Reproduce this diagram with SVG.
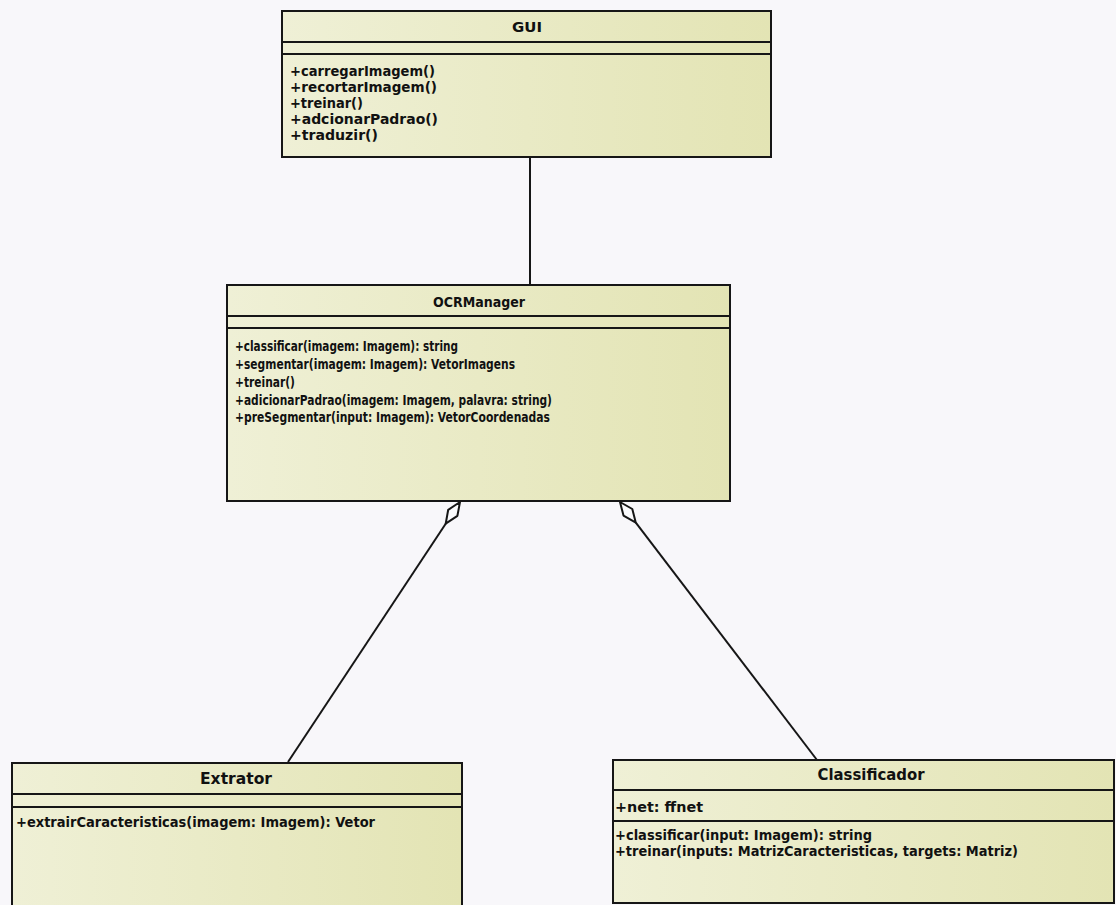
<svg xmlns="http://www.w3.org/2000/svg" width="1116" height="905" viewBox="0 0 1116 905">
  <defs>
    <linearGradient id="fillG" x1="0" y1="0" x2="1" y2="0">
      <stop offset="0" stop-color="#eff0d6"/>
      <stop offset="1" stop-color="#e3e4b4"/>
    </linearGradient>
    <style>
      .box { fill: url(#fillG); stroke: #161616; stroke-width: 2; }
      .sep { stroke: #161616; stroke-width: 2; }
      .title { font-family: "DejaVu Sans", "Liberation Sans", sans-serif; font-weight: bold; fill: #111; text-anchor: middle; }
      .m { font-family: "DejaVu Sans", "Liberation Sans", sans-serif; fill: #111; font-weight: 600; }
      .conn { stroke: #161616; stroke-width: 2; fill: none; }
      .dia { fill: #fbfbfd; stroke: #161616; stroke-width: 2; stroke-linejoin: round; }
    </style>
  </defs>
  <rect x="0" y="0" width="1116" height="905" fill="#f8f7fa"/>

  <g id="connectors">
    <line class="conn" x1="530" y1="157" x2="530" y2="285"/>
    <line class="conn" x1="445.7" y1="523.7" x2="288" y2="762"/>
    <polygon class="dia" points="460,502 457.4,515.8 445.7,523.7 448.2,509.8"/>
    <line class="conn" x1="635.8" y1="522.7" x2="817" y2="760"/>
    <polygon class="dia" points="620,502 632.3,509 635.8,522.7 623.5,515.6"/>
  </g>

  <g id="GUI">
    <rect class="box" x="282" y="11" width="489" height="146"/>
    <line class="sep" x1="282" y1="42" x2="771" y2="42"/>
    <line class="sep" x1="282" y1="54" x2="771" y2="54"/>
    <text class="title" x="527" y="32" font-size="13.5" textLength="30" lengthAdjust="spacingAndGlyphs">GUI</text>
    <text class="m" x="290" y="75.5" font-size="14" textLength="145" lengthAdjust="spacingAndGlyphs">+carregarImagem()</text>
    <text class="m" x="290" y="91.5" font-size="14" textLength="147" lengthAdjust="spacingAndGlyphs">+recortarImagem()</text>
    <text class="m" x="290" y="107.5" font-size="14" textLength="73" lengthAdjust="spacingAndGlyphs">+treinar()</text>
    <text class="m" x="290" y="123.5" font-size="14" textLength="148" lengthAdjust="spacingAndGlyphs">+adcionarPadrao()</text>
    <text class="m" x="290" y="139.5" font-size="14" textLength="88" lengthAdjust="spacingAndGlyphs">+traduzir()</text>
  </g>

  <g id="OCRManager">
    <rect class="box" x="227" y="285" width="503" height="216"/>
    <line class="sep" x1="227" y1="316" x2="730" y2="316"/>
    <line class="sep" x1="227" y1="328" x2="730" y2="328"/>
    <text class="title" x="479" y="306.5" font-size="14" textLength="92" lengthAdjust="spacingAndGlyphs">OCRManager</text>
    <text class="m" x="235" y="350.5" font-size="13.5" textLength="223" lengthAdjust="spacingAndGlyphs">+classificar(imagem: Imagem): string</text>
    <text class="m" x="235" y="368.5" font-size="13.5" textLength="280" lengthAdjust="spacingAndGlyphs">+segmentar(imagem: Imagem): VetorImagens</text>
    <text class="m" x="235" y="386.5" font-size="13.5" textLength="60" lengthAdjust="spacingAndGlyphs">+treinar()</text>
    <text class="m" x="235" y="404.5" font-size="13.5" textLength="317" lengthAdjust="spacingAndGlyphs">+adicionarPadrao(imagem: Imagem, palavra: string)</text>
    <text class="m" x="235" y="421.5" font-size="13.5" textLength="315" lengthAdjust="spacingAndGlyphs">+preSegmentar(input: Imagem): VetorCoordenadas</text>
  </g>

  <g id="Extrator">
    <rect class="box" x="12" y="763" width="450" height="160"/>
    <line class="sep" x1="12" y1="794" x2="462" y2="794"/>
    <line class="sep" x1="12" y1="807" x2="462" y2="807"/>
    <text class="title" x="236" y="784" font-size="15" textLength="72" lengthAdjust="spacingAndGlyphs">Extrator</text>
    <text class="m" x="16" y="827" font-size="14.5" textLength="359" lengthAdjust="spacingAndGlyphs">+extrairCaracteristicas(imagem: Imagem): Vetor</text>
  </g>

  <g id="Classificador">
    <rect class="box" x="613" y="760" width="501" height="143"/>
    <line class="sep" x1="613" y1="790" x2="1114" y2="790"/>
    <line class="sep" x1="613" y1="821" x2="1114" y2="821"/>
    <text class="title" x="871" y="780" font-size="15" textLength="107" lengthAdjust="spacingAndGlyphs">Classificador</text>
    <text class="m" x="615" y="811.5" font-size="14.5" textLength="88" lengthAdjust="spacingAndGlyphs">+net: ffnet</text>
    <text class="m" x="615" y="840" font-size="14" textLength="257" lengthAdjust="spacingAndGlyphs">+classificar(input: Imagem): string</text>
    <text class="m" x="615" y="856" font-size="14" textLength="403" lengthAdjust="spacingAndGlyphs">+treinar(inputs: MatrizCaracteristicas, targets: Matriz)</text>
  </g>
</svg>
